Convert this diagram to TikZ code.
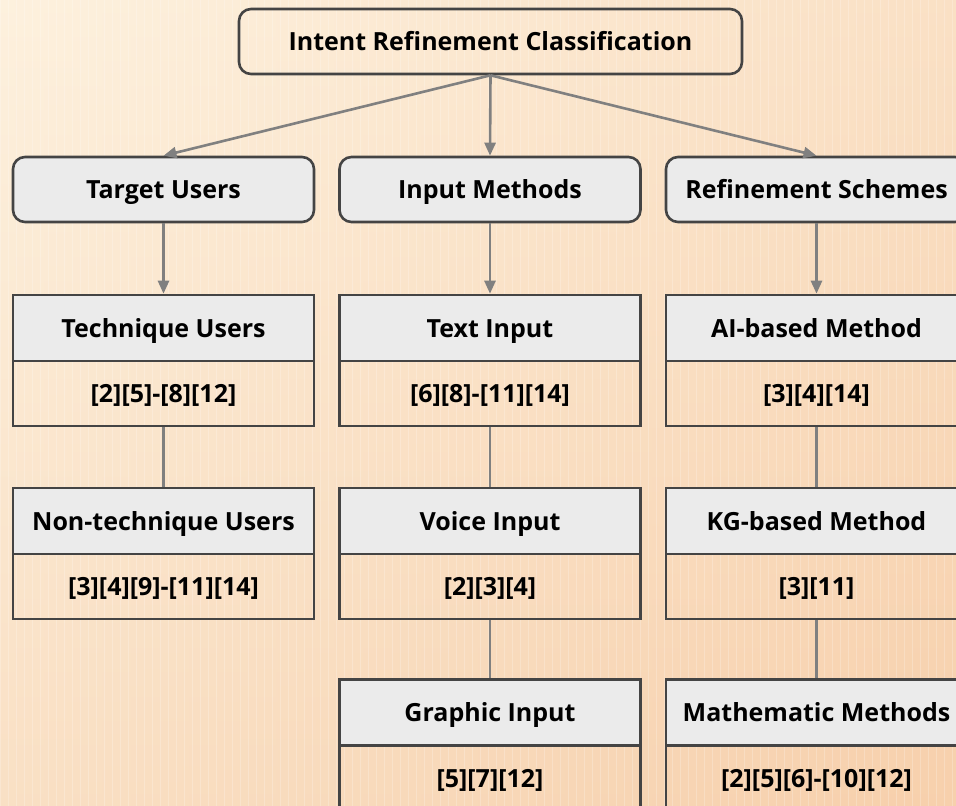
\documentclass[tikz,border=0pt]{standalone}
\usepackage{fontspec}
\setmainfont{Open Sans}
\usetikzlibrary{arrows.meta}
\definecolor{bgA}{HTML}{FDF1DE}
\definecolor{bgB}{HTML}{F7D0AC}
\definecolor{hdrfill}{HTML}{EBEBEB}
\definecolor{bordc}{HTML}{444444}
\definecolor{linec}{HTML}{808080}
\tikzset{
  txt/.style={font=\bfseries\fontsize{25}{28}\selectfont, text height=18pt, text depth=0pt, inner sep=0pt},
  rootbox/.style={txt, draw=bordc, line width=2.6pt, rounded corners=12pt, minimum width=503pt, minimum height=65pt},
  catbox/.style={txt, draw=bordc, line width=2.6pt, fill=hdrfill, rounded corners=12pt, minimum width=301pt, minimum height=65pt},
  hdrbox/.style={txt, draw=bordc, line width=2.6pt, fill=hdrfill, minimum width=301pt, minimum height=66pt},
  refbox/.style={txt, draw=bordc, line width=2.6pt, minimum width=301pt, minimum height=65pt},
  arr/.style={draw=linec, line width=2.6pt, -{Triangle[length=13pt,width=11pt]}},
  link/.style={draw=linec, line width=2.6pt},
}
\begin{document}
\begin{tikzpicture}[x=1pt,y=-1pt]
\useasboundingbox (0,0) rectangle (956,806);
% background
\shade[left color=bgA, right color=bgB] (0,0) rectangle (956,806);
\shade[top color=bgA, bottom color=bgB, opacity=0.5] (0,0) rectangle (956,806);
\draw[white, opacity=0.22, line width=0.8pt, step=8] (0,0) grid (956,806);
% nodes
\node[rootbox] (root) at (490.5,41.5) {Intent Refinement Classification};
\node[catbox] (tg) at (163.5,189.5) {Target Users};
\node[catbox] (im) at (490,189.5) {Input Methods};
\node[catbox] (rs) at (816.5,189.5) {Refinement Schemes};
% column 1
\node[hdrbox] (tu) at (163.5,328) {Technique Users};
\node[refbox] (tur) at (163.5,393.5) {[2][5]-[8][12]};
\node[hdrbox] (nu) at (163.5,521) {Non-technique Users};
\node[refbox] (nur) at (163.5,586.5) {[3][4][9]-[11][14]};
% column 2
\node[hdrbox] (ti) at (490,328) {Text Input};
\node[refbox] (tir) at (490,393.5) {[6][8]-[11][14]};
\node[hdrbox] (vi) at (490,521) {Voice Input};
\node[refbox] (vir) at (490,586.5) {[2][3][4]};
\node[hdrbox] (gi) at (490,712.5) {Graphic Input};
\node[refbox] (gir) at (490,778) {[5][7][12]};
% column 3
\node[hdrbox] (ai) at (816.5,328) {AI-based Method};
\node[refbox] (air) at (816.5,393.5) {[3][4][14]};
\node[hdrbox] (kg) at (816.5,521) {KG-based Method};
\node[refbox] (kgr) at (816.5,586.5) {[3][11]};
\node[hdrbox] (mm) at (816.5,712.5) {Mathematic Methods};
\node[refbox] (mmr) at (816.5,778) {[2][5][6]-[10][12]};
% connectors
\draw[arr] (root.south) -- (tg.north);
\draw[arr] (root.south) -- (im.north);
\draw[arr] (root.south) -- (rs.north);
\draw[arr] (tg.south) -- (tu.north);
\draw[arr] (im.south) -- (ti.north);
\draw[arr] (rs.south) -- (ai.north);
\draw[link] (tur.south) -- (nu.north);
\draw[link] (tir.south) -- (vi.north);
\draw[link] (vir.south) -- (gi.north);
\draw[link] (air.south) -- (kg.north);
\draw[link] (kgr.south) -- (mm.north);
\end{tikzpicture}
\end{document}
